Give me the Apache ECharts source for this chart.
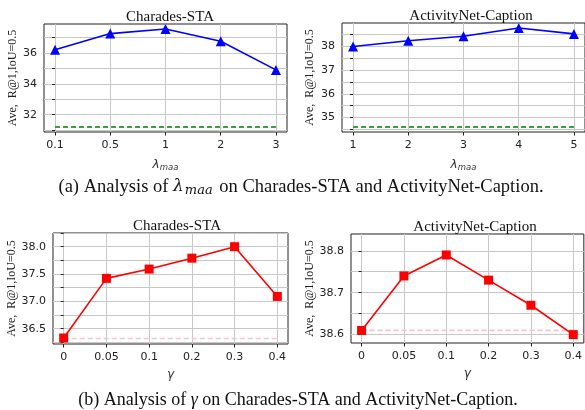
<!DOCTYPE html>
<html>
<head>
<meta charset="utf-8">
<script src="https://cdn.jsdelivr.net/npm/echarts@6/dist/echarts.min.js"></script>
<style>
  html, body { margin: 0; padding: 0; background: #fff; }
  #chart { width: 585px; height: 410px; }
</style>
</head>
<body>
<div id="chart"></div>
<script>
// λ_maa sweep
const lambdaLabels = ['0.1', '0.5', '1', '2', '3'];
const lambdaCharades = [36.2, 37.25, 37.55, 36.75, 34.9];
const lambdaCharadesBase = [31.2, 31.2, 31.2, 31.2, 31.2];
const lambdaAnetLabels = ['1', '2', '3', '4', '5'];
const lambdaAnet = [38.0, 38.24, 38.43, 38.78, 38.53];
const lambdaAnetBase = [34.6, 34.6, 34.6, 34.6, 34.6];

// γ sweep
const gammaLabels = ['0', '0.05', '0.1', '0.2', '0.3', '0.4'];
const gammaCharades = [36.33, 37.42, 37.59, 37.79, 38.0, 37.09];
const gammaCharadesBase = [36.32, 36.32, 36.32, 36.32, 36.32, 36.32];
const gammaAnet = [38.61, 38.74, 38.79, 38.73, 38.67, 38.60];
const gammaAnetBase = [38.61, 38.61, 38.61, 38.61, 38.61, 38.61];

// y-axis tick positions (major labelled, minor gridlines)
const yTicks1 = [31, 32, 33, 34, 35, 36, 37];
const yLabels1 = [32, 34, 36];
const yTicks2 = [34.5, 35, 35.5, 36, 36.5, 37, 37.5, 38, 38.5];
const yLabels2 = [35, 36, 37, 38];
const yTicks3 = [36.25, 36.5, 36.75, 37, 37.25, 37.5, 37.75, 38, 38.25];
const yLabels3 = [36.5, 37.0, 37.5, 38.0];
const yTicks4 = [38.6, 38.65, 38.7, 38.75, 38.8];
const yLabels4 = [38.6, 38.7, 38.8];

const grids = [
  { left: 44, top: 24, width: 243, height: 108 },
  { left: 342, top: 23, width: 243, height: 109 },
  { left: 53, top: 233, width: 235, height: 111 },
  { left: 351, top: 234, width: 234, height: 109 }
];

const tickFont = { fontFamily: 'DejaVu Sans', fontSize: 11, color: '#222' };
const serif = 'Liberation Serif';
const yName = 'Ave,  R@1,IoU=0.5';

const lambdaName = '{l|λ}{s|maa}';
const lambdaRich = {
  l: { fontFamily: 'DejaVu Sans', fontStyle: 'italic', fontSize: 12, color: '#333' },
  s: { fontFamily: 'DejaVu Sans', fontStyle: 'italic', fontSize: 8.5, color: '#333', padding: [6, 0, 0, 0] }
};

function idx(arr) { return arr.map((_, i) => i); }

function xAxis(gi, labels, nameText, rich) {
  const n = labels.length - 1;
  const pad = n * 0.05;
  return {
    type: 'value', gridIndex: gi, min: -pad, max: n + pad,
    axisLine: { show: false },
    axisTick: { show: true, length: 3.5, customValues: idx(labels), lineStyle: { color: '#222' } },
    axisLabel: { ...tickFont, margin: 8, customValues: idx(labels), formatter: v => labels[Math.round(v)] },
    splitLine: { show: true, lineStyle: { color: '#c8c8c8', width: 1 } },
    name: nameText, nameLocation: 'middle', nameGap: 25,
    nameTextStyle: rich ? { rich: rich } : { fontFamily: 'DejaVu Sans', fontStyle: 'italic', fontSize: 12, color: '#333' }
  };
}

function yAxis(gi, min, max, ticks, labels, digits, gap) {
  return {
    type: 'value', gridIndex: gi, min: min, max: max,
    axisLine: { show: false },
    axisTick: { show: true, length: 3, customValues: ticks, lineStyle: { color: '#222' } },
    axisLabel: { ...tickFont, margin: 7, customValues: labels, formatter: v => v.toFixed(digits) },
    splitLine: { show: true, lineStyle: { color: '#c8c8c8', width: 1 } },
    name: yName, nameLocation: 'middle', nameGap: gap, nameRotate: 90,
    nameTextStyle: { fontFamily: serif, fontSize: 12, color: '#222' }
  };
}

function pts(vals) { return vals.map((v, i) => [i, v]); }

function lineSeries(gi, vals, color, symbol, size) {
  return {
    type: 'line', xAxisIndex: gi, yAxisIndex: gi, data: pts(vals),
    symbol: symbol, symbolSize: size, showSymbol: true,
    lineStyle: { color: color, width: 1.6 },
    itemStyle: { color: color, borderWidth: 0 },
    z: 3, animation: false
  };
}

function baseSeries(gi, vals, color) {
  return {
    type: 'line', xAxisIndex: gi, yAxisIndex: gi, data: pts(vals),
    symbol: 'none', lineStyle: { color: color, width: 1.6, type: [5, 3] },
    z: 2, animation: false
  };
}

const chart = echarts.init(document.getElementById('chart'), null, { renderer: 'canvas' });

chart.setOption({
  backgroundColor: '#fff',
  animation: false,
  title: [
    { text: 'Charades-STA', left: 165, top: 5, textAlign: 'center', textStyle: { fontFamily: serif, fontSize: 15, fontWeight: 'normal', color: '#111' } },
    { text: 'ActivityNet-Caption', left: 466, top: 4, textAlign: 'center', textStyle: { fontFamily: serif, fontSize: 15, fontWeight: 'normal', color: '#111' } },
    { text: 'Charades-STA', left: 172, top: 214, textAlign: 'center', textStyle: { fontFamily: serif, fontSize: 15, fontWeight: 'normal', color: '#111' } },
    { text: 'ActivityNet-Caption', left: 470, top: 215, textAlign: 'center', textStyle: { fontFamily: serif, fontSize: 15, fontWeight: 'normal', color: '#111' } },
    {
      text: '(a) Analysis of {l|λ}{s|maa} on Charades-STA and ActivityNet-Caption.', left: 296, top: 172, textAlign: 'center',
      textStyle: {
        fontFamily: serif, fontSize: 18.5, fontWeight: 'normal', color: '#111',
        rich: {
          l: { fontFamily: 'DejaVu Serif', fontStyle: 'italic', fontSize: 17, color: '#111' },
          s: { fontFamily: 'DejaVu Serif', fontStyle: 'italic', fontSize: 13, color: '#111', padding: [7, 2, 0, 1] }
        }
      }
    },
    {
      text: '(b) Analysis of {g|γ} on Charades-STA and ActivityNet-Caption.', left: 293, top: 386, textAlign: 'center',
      textStyle: {
        fontFamily: serif, fontSize: 18, fontWeight: 'normal', color: '#111',
        rich: { g: { fontFamily: serif, fontStyle: 'italic', fontSize: 18, color: '#111' } }
      }
    }
  ],
  grid: grids.map(g => ({ ...g, show: true, borderColor: '#222', borderWidth: 1, backgroundColor: 'transparent', containLabel: false })),
  xAxis: [
    xAxis(0, lambdaLabels, lambdaName, lambdaRich),
    xAxis(1, lambdaAnetLabels, lambdaName, lambdaRich),
    xAxis(2, gammaLabels, 'γ', null),
    xAxis(3, gammaLabels, 'γ', null)
  ],
  yAxis: [
    yAxis(0, 30.88, 37.87, yTicks1, yLabels1, 0, 25),
    yAxis(1, 34.39, 38.99, yTicks2, yLabels2, 0, 26),
    yAxis(2, 36.22, 38.25, yTicks3, yLabels3, 1, 35),
    yAxis(3, 38.58, 38.84, yTicks4, yLabels4, 1, 35)
  ],
  series: [
    baseSeries(0, lambdaCharadesBase, '#008000'),
    lineSeries(0, lambdaCharades, '#0000ff', 'triangle', 10),
    baseSeries(1, lambdaAnetBase, '#008000'),
    lineSeries(1, lambdaAnet, '#0000ff', 'triangle', 10),
    baseSeries(2, gammaCharadesBase, '#ffc0cb'),
    lineSeries(2, gammaCharades, '#ff0000', 'rect', 9),
    baseSeries(3, gammaAnetBase, '#ffc0cb'),
    lineSeries(3, gammaAnet, '#ff0000', 'rect', 9)
  ]
});
</script>
</body>
</html>
